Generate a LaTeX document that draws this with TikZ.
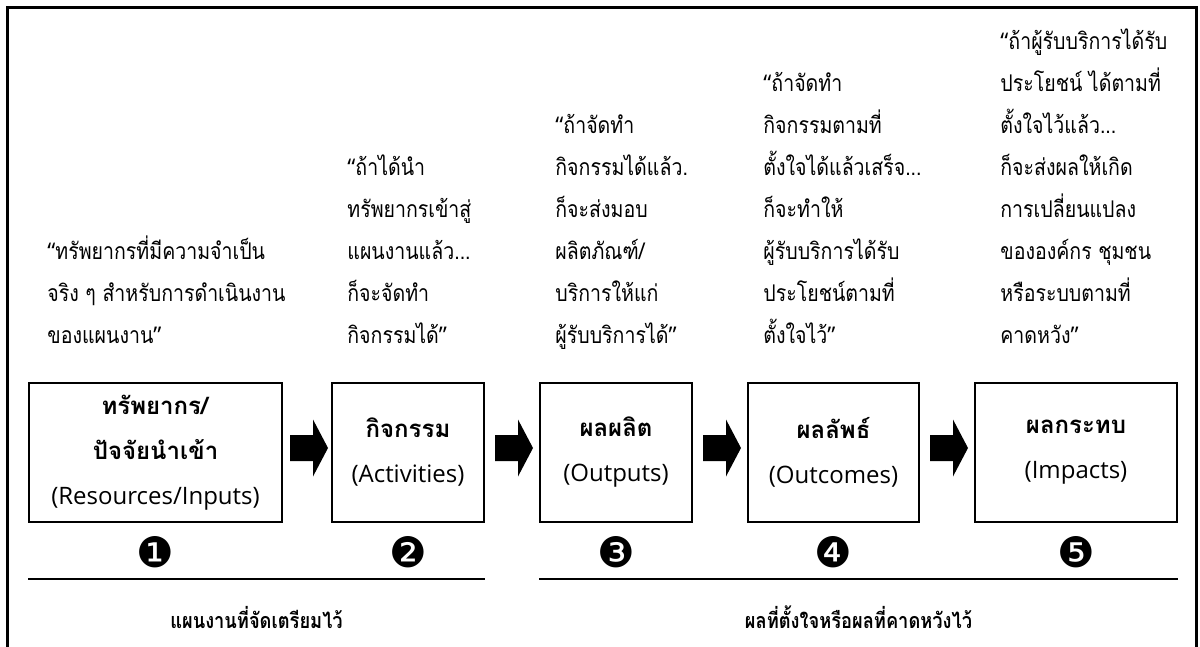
\documentclass[tikz,border=0pt]{standalone}
\usepackage{fontspec}
\setmainfont{Loma}[Script=Thai]
\newfontfamily\quotefont{Loma}[Script=Thai, FakeStretch=0.85]
\newfontfamily\latinfont{Open Sans}
\newfontfamily\symfont{DejaVu Sans}
\newcommand\oq{{\latinfont “}}
\newcommand\cq{{\latinfont ”}}
\usetikzlibrary{calc}
\tikzset{
  box/.style={draw, line width=0.8pt, minimum width=#1, minimum height=69.5pt,
    align=center, inner sep=0pt, font=\fontsize{12}{22.5}\selectfont},
  quote/.style={anchor=north west, inner sep=0pt, align=left,
    font=\quotefont\fontsize{11.5}{21}\selectfont},
  num/.style={inner sep=0pt, font=\symfont\fontsize{21}{21}\selectfont},
  rule/.style={line width=1.2pt},
  lab/.style={inner sep=0pt, font=\quotefont\bfseries\fontsize{10.75}{12}\selectfont},
  blockarrow/.style={fill=black}
}
\begin{document}
\begin{tikzpicture}[x=0.5pt,y=-0.5pt]
\useasboundingbox (0,0) rectangle (1200,647);
\draw[line width=1.5pt] (7.5,8) rectangle (1196,670);

% quotes (first baseline = 343 - (n-1)*42, top = baseline - 29.4)
\node[quote] (q1) at (47,{343-2*42-29.4}) {\strut\oq ทรัพยากรที่มีความจำเป็น\\\strut จริง ๆ สำหรับการดำเนินงาน\\\strut ของแผนงาน\cq};
\node[quote] (q2) at (347,{343-4*42-29.4}) {\strut\oq ถ้าได้นำ\\\strut ทรัพยากรเข้าสู่\\\strut แผนงานแล้ว...\\\strut ก็จะจัดทำ\\\strut กิจกรรมได้\cq};
\node[quote] (q3) at (555,{343-5*42-29.4}) {\strut\oq ถ้าจัดทำ\\\strut กิจกรรมได้แล้ว.\\\strut ก็จะส่งมอบ\\\strut ผลิตภัณฑ์/\\\strut บริการให้แก่\\\strut ผู้รับบริการได้\cq};
\node[quote] (q4) at (763,{343-6*42-29.4}) {\strut\oq ถ้าจัดทำ\\\strut กิจกรรมตามที่\\\strut ตั้งใจได้แล้วเสร็จ...\\\strut ก็จะทำให้\\\strut ผู้รับบริการได้รับ\\\strut ประโยชน์ตามที่\\\strut ตั้งใจไว้\cq};
\node[quote] (q5) at (1000,{343-7*42-29.4}) {\strut\oq ถ้าผู้รับบริการได้รับ\\\strut ประโยชน์ ได้ตามที่\\\strut ตั้งใจไว้แล้ว...\\\strut ก็จะส่งผลให้เกิด\\\strut การเปลี่ยนแปลง\\\strut ขององค์กร ชุมชน\\\strut หรือระบบตามที่\\\strut คาดหวัง\cq};

% boxes
\node[box=126.5pt] (b1) at (155.5,452.5) {\textbf{ทรัพยากร/}\\\textbf{ปัจจัยนำเข้า}\\{\latinfont (Resources/Inputs)}};
\node[box=76pt] (b2) at (408,452.5) {\textbf{กิจกรรม}\\{\latinfont (Activities)}};
\node[box=76pt] (b3) at (616,452.5) {\textbf{ผลผลิต}\\{\latinfont (Outputs)}};
\node[box=85.5pt] (b4) at (833.5,452.5) {\textbf{ผลลัพธ์}\\{\latinfont (Outcomes)}};
\node[box=101pt] (b5) at (1076,452.5) {\textbf{ผลกระทบ}\\{\latinfont (Impacts)}};

% block arrows
\foreach \a/\b in {b1/b2,b2/b3,b3/b4,b4/b5}{
  \coordinate (m) at ($(\a.east)!0.5!(\b.west)+(2,-4.5)$);
  \fill[blockarrow] ($(m)+(-19,-13)$) -- ($(m)+(4,-13)$) -- ($(m)+(4,-28.5)$)
    -- ($(m)+(19,0)$) -- ($(m)+(4,28.5)$) -- ($(m)+(4,13)$) -- ($(m)+(-19,13)$) -- cycle;
}

% numbers
\coordinate (nrow) at (0,552);
\node[num] (n1) at (b1 |- nrow) {❶};
\node[num] (n2) at (b2 |- nrow) {❷};
\node[num] (n3) at (b3 |- nrow) {❸};
\node[num] (n4) at (b4 |- nrow) {❹};
\node[num] (n5) at (b5 |- nrow) {❺};

% rules
\coordinate (lrow) at (0,579);
\coordinate (l1a) at (b1.west |- lrow);
\coordinate (l1b) at (b2.east |- lrow);
\coordinate (l2a) at (b3.west |- lrow);
\coordinate (l2b) at (b5.east |- lrow);
\draw[rule] (l1a) -- (l1b);
\draw[rule] (l2a) -- (l2b);

\coordinate (trow) at (0,617);
\coordinate (c1) at ($(l1a)!0.5!(l1b)$);
\coordinate (c2) at ($(l2a)!0.5!(l2b)$);
\node[lab] (t1) at (c1 |- trow) {แผนงานที่จัดเตรียมไว้};
\node[lab] (t2) at (c2 |- trow) {ผลที่ตั้งใจหรือผลที่คาดหวังไว้};
\end{tikzpicture}
\end{document}
